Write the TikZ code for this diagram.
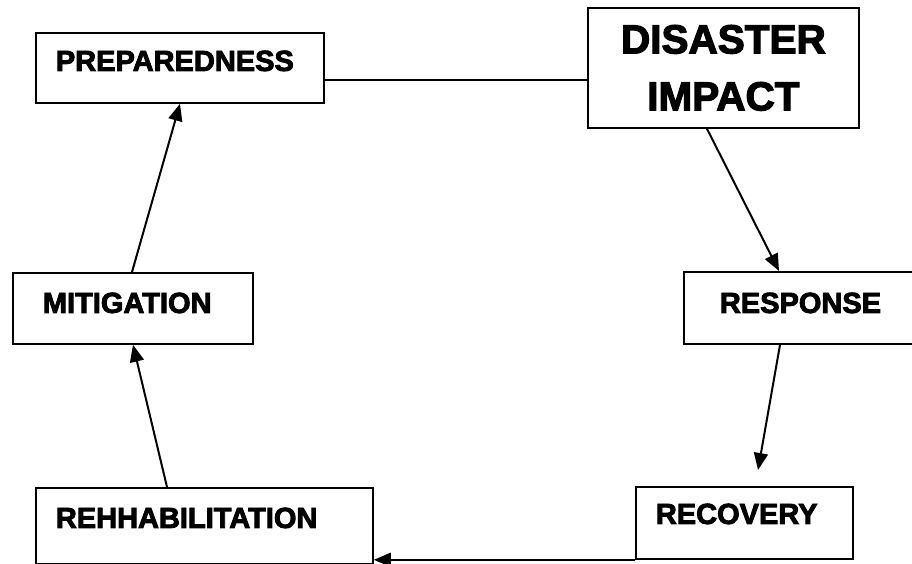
\documentclass[tikz,border=0pt]{standalone}
\usepackage{fontspec}
\usepackage{tikz}
\usetikzlibrary{arrows.meta}
\newfontfamily\diagfont{Liberation Sans}[BoldFeatures={FakeBold=3}]

\begin{document}
\begin{tikzpicture}[x=1pt,y=-1pt,
    box/.style={draw, line width=1.8pt, anchor=north west, inner ysep=0pt,
      align=left, font=\diagfont\bfseries\fontsize{29pt}{34pt}\selectfont},
    flow/.style={line width=2pt, -{Triangle[length=17pt,width=14pt]}}]
    \useasboundingbox (0,0) rectangle (912,563);
    % the six stages
    \node[box, inner xsep=20pt, text width=248pt, text height=38pt, text depth=32pt] (prep) at (35,32) {PREPAREDNESS};
    \node[box, align=center, inner sep=0pt, text width=271pt, minimum height=120pt,
      font=\diagfont\bfseries\fontsize{40.5pt}{57pt}\selectfont] (impact) at (587,7) {DISASTER\\IMPACT};
    \node[box, inner xsep=36pt, text width=164pt, text height=41pt, text depth=31pt] (resp) at (683,271) {RESPONSE};
    \node[box, inner xsep=30pt, text width=180pt, text height=40pt, text depth=31pt] (mitig) at (12,272) {MITIGATION};
    \node[box, inner xsep=20pt, text width=297pt, text height=40pt, text depth=35.5pt] (rehab) at (35,487) {REHHABILITATION};
    \node[box, inner xsep=20pt, text width=177pt, text height=37pt, text depth=35pt] (recov) at (635,486) {RECOVERY};
    % the cycle
    \draw[line width=1.8pt] ([yshift=-12pt]prep.east) -- ([yshift=-12pt]impact.west);
    \draw[flow] ([xshift=120pt]impact.south west) -- ([xshift=96pt]resp.north west);
    \draw[flow] ([xshift=97pt]resp.south west) -- ([xshift=123pt,yshift=16pt]recov.north west);
    \draw[flow] (recov.south west) -- (recov.south west -| rehab.east);
    \draw[flow] ([xshift=132pt]rehab.north west) -- ([xshift=121pt]mitig.south west);
    \draw[flow] ([xshift=120pt]mitig.north west) -- ([xshift=145pt]prep.south west);
\end{tikzpicture}
\end{document}
